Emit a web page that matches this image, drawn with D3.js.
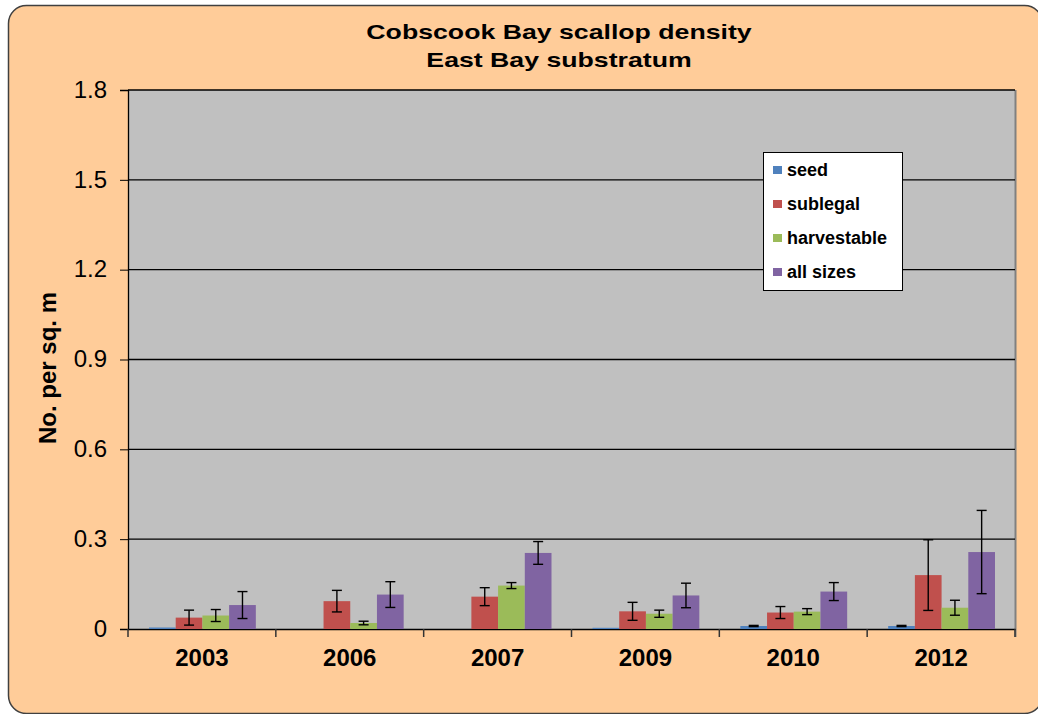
<!DOCTYPE html>
<html lang="en">
  <head>
    <meta charset="UTF-8" />
    <script src="https://cdn.jsdelivr.net/npm/d3@7"></script>
    <style>
      body { margin: 0; background: #fff; }
      text { font-family: Arial, "Liberation Sans", sans-serif; fill: #000; }
    </style>
  </head>
  <body>
    <div id="fig"></div>
    <script>
      const years = ["2003", "2006", "2007", "2009", "2010", "2012"];
      const seriesNames = ["seed", "sublegal", "harvestable", "all sizes"];
      const seed = [0.005, 0, 0, 0.004, 0.010, 0.010];
      const seedErr = [null, null, null, null, 0.002, 0.002];
      const sublegal = [0.038, 0.093, 0.108, 0.059, 0.055, 0.180];
      const sublegalErr = [0.025, 0.036, 0.030, 0.030, 0.020, 0.118];
      const harvestable = [0.045, 0.020, 0.145, 0.051, 0.058, 0.071];
      const harvestableErr = [0.020, 0.006, 0.010, 0.012, 0.010, 0.025];
      const allSizes = [0.080, 0.115, 0.254, 0.112, 0.125, 0.257];
      const allSizesErr = [0.045, 0.043, 0.038, 0.041, 0.030, 0.139];
      const yTicks = [0, 0.3, 0.6, 0.9, 1.2, 1.5, 1.8];

      const colors = ["#4F81BD", "#C0504D", "#9BBB59", "#8064A2"];
      const values = [seed, sublegal, harvestable, allSizes];
      const errors = [seedErr, sublegalErr, harvestableErr, allSizesErr];

      const width = 1038, height = 714;
      const plot = { left: 128, right: 1015, top: 90, bottom: 629 };

      const svg = d3.select("#fig").append("svg")
        .attr("width", width).attr("height", height);

      // outer rounded chart frame
      svg.append("rect")
        .attr("x", 8.5).attr("y", 5.5)
        .attr("width", 1034).attr("height", 708)
        .attr("rx", 18)
        .attr("fill", "#FFCC99")
        .attr("stroke", "#404040").attr("stroke-width", 1.5);

      const x0 = d3.scaleBand().domain(years).range([plot.left, plot.right]);
      const x1 = d3.scaleBand().domain(seriesNames).range([21, x0.bandwidth() - 20]);
      const y = d3.scaleLinear().domain([0, 1.8]).range([plot.bottom, plot.top]);

      svg.append("rect")
        .attr("x", plot.left).attr("y", plot.top)
        .attr("width", plot.right - plot.left).attr("height", plot.bottom - plot.top)
        .attr("fill", "#C0C0C0");
      svg.append("line")
        .attr("x1", plot.right + 0.5).attr("x2", plot.right + 0.5)
        .attr("y1", plot.top).attr("y2", plot.bottom + 8)
        .attr("stroke", "#808080").attr("stroke-width", 2);

      // gridlines
      svg.append("g").selectAll("line").data(yTicks.filter(d => d > 0)).join("line")
        .attr("x1", plot.left).attr("x2", plot.right)
        .attr("y1", d => y(d)).attr("y2", d => y(d))
        .attr("stroke", "#000").attr("stroke-width", 1.3);

      // y axis
      const yAxis = svg.append("g")
        .attr("transform", `translate(${plot.left},0)`)
        .call(d3.axisLeft(y).tickValues(yTicks).tickSize(8).tickPadding(13)
          .tickFormat(d => d === 0 ? "0" : d3.format(".1f")(d)));
      yAxis.select(".domain").attr("stroke", "#000").attr("stroke-width", 1.3);
      yAxis.selectAll(".tick line").attr("stroke", "#000");
      yAxis.selectAll(".tick text")
        .attr("font-size", 24).attr("font-family", "Arial, 'Liberation Sans', sans-serif")
        .attr("fill", "#111").attr("dy", "0.3em");

      // x axis
      const xAxis = svg.append("g")
        .attr("transform", `translate(0,${plot.bottom})`)
        .call(d3.axisBottom(x0).tickSize(0).tickPadding(20));
      xAxis.select(".domain").attr("stroke", "#000").attr("stroke-width", 1.5);
      xAxis.selectAll(".tick text")
        .attr("font-size", 24).attr("font-weight", "bold")
        .attr("font-family", "Arial, 'Liberation Sans', sans-serif")
        .attr("fill", "#000");
      xAxis.append("g").selectAll("line").data(years.concat(["end"])).join("line")
        .attr("x1", (d, i) => plot.left + i * x0.step())
        .attr("x2", (d, i) => plot.left + i * x0.step())
        .attr("y1", 0).attr("y2", 8)
        .attr("stroke", "#333").attr("stroke-width", 1.5);

      // bars and error bars
      const rows = [];
      seriesNames.forEach((s, si) => {
        years.forEach((yr, yi) => {
          rows.push({ year: yr, series: s, color: colors[si], value: values[si][yi], err: errors[si][yi] });
        });
      });

      const barG = svg.append("g");
      barG.selectAll("rect").data(rows.filter(d => d.value > 0)).join("rect")
        .attr("x", d => x0(d.year) + x1(d.series))
        .attr("width", x1.bandwidth())
        .attr("y", d => y(d.value))
        .attr("height", d => y(0) - y(d.value))
        .attr("fill", d => d.color);

      const errRows = rows.filter(d => d.err !== null && d.value > 0);
      const errG = barG.selectAll("g.err").data(errRows).join("g").attr("class", "err")
        .attr("stroke", "#000").attr("stroke-width", 1.4);
      const cx = d => x0(d.year) + x1(d.series) + x1.bandwidth() / 2;
      errG.append("line")
        .attr("x1", cx).attr("x2", cx)
        .attr("y1", d => y(d.value + d.err)).attr("y2", d => y(Math.max(0, d.value - d.err)));
      errG.append("line")
        .attr("x1", d => cx(d) - 5).attr("x2", d => cx(d) + 5)
        .attr("y1", d => y(d.value + d.err)).attr("y2", d => y(d.value + d.err));
      errG.append("line")
        .attr("x1", d => cx(d) - 5).attr("x2", d => cx(d) + 5)
        .attr("y1", d => y(Math.max(0, d.value - d.err))).attr("y2", d => y(Math.max(0, d.value - d.err)));

      // title (stretched horizontally like the original)
      const title = ["Cobscook Bay scallop density", "East Bay substratum"];
      svg.append("g").selectAll("text").data(title).join("text")
        .attr("transform", (d, i) => `translate(559,${39 + i * 28}) scale(1.27,1)`)
        .attr("text-anchor", "middle")
        .attr("font-size", 21).attr("font-weight", "bold")
        .text(d => d);

      // y axis title
      svg.append("text")
        .attr("transform", "translate(56,368) rotate(-90)")
        .attr("text-anchor", "middle")
        .attr("font-size", 24).attr("font-weight", "bold")
        .text("No. per sq. m");

      // legend
      const legend = svg.append("g").attr("transform", "translate(763,152)");
      legend.append("rect")
        .attr("x", 0.5).attr("y", 0.5).attr("width", 139).attr("height", 138)
        .attr("fill", "#fff").attr("stroke", "#000").attr("stroke-width", 1);
      const item = legend.selectAll("g.item").data(seriesNames).join("g").attr("class", "item")
        .attr("transform", (d, i) => `translate(0,${18 + i * 34})`);
      item.append("rect")
        .attr("x", 10).attr("y", -4).attr("width", 9).attr("height", 8)
        .attr("fill", (d, i) => colors[i]);
      item.append("text")
        .attr("x", 24).attr("y", 6)
        .attr("font-size", 18).attr("font-weight", "bold")
        .text(d => d);
    </script>
  </body>
</html>
